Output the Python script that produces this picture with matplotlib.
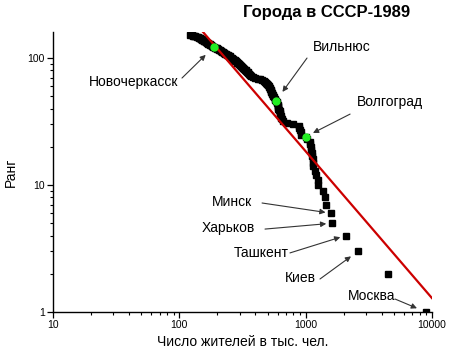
import numpy as np
import matplotlib
matplotlib.use("Agg")
import matplotlib.pyplot as plt
from matplotlib.ticker import LogLocator, FuncFormatter

plt.rcParams['font.family'] = ['Liberation Sans', 'DejaVu Sans']

# population of cities, thousands (rank = position in list, 1-based)
population = [
    8967, 4460, 2587, 2073, 1611, 1589, 1438, 1436, 1367, 1260,
    1257, 1199, 1179, 1150, 1148, 1143, 1128, 1115, 1110, 1094,
    1091, 1083, 1020, 999, 915, 912, 905, 887, 884, 790,
    713, 665, 648, 635, 633, 630, 626, 625, 616, 605,
    602, 601, 600, 596, 590, 582, 575, 568, 560, 552,
    547, 543, 540, 536, 531, 528, 525, 520, 515, 509,
    503, 498, 492, 486, 480, 470, 455, 436, 420, 400,
    380, 370, 365, 360, 356, 352, 347, 343, 338, 335,
    330, 326, 322, 318, 314, 310, 306, 302, 299, 296,
    292, 288, 285, 281, 278, 274, 270, 266, 263, 259,
    256, 253, 250, 246, 242, 238, 234, 231, 227, 224,
    221, 218, 215, 212, 209, 206, 203, 200, 197, 194,
    191, 187, 184, 182, 180, 178, 176, 174, 172, 170,
    168, 166, 164, 162, 160, 158, 156, 154, 152, 150,
    149, 148, 147, 146, 143, 140, 137, 134, 131, 128,
    125, 122,
]
rank = list(range(1, len(population) + 1))

# highlighted cities (rank)
green_names = ['Новочеркасск', 'Вильнюс', 'Волгоград']
green_rank = [122, 46, 24]

# labelled black points (rank)
black_names = ['Минск', 'Харьков', 'Ташкент', 'Киев', 'Москва']
black_rank = [6, 5, 4, 3, 1]

# power-law fit: log10(rank) = fit_a + fit_b * log10(pop)
fit_a = 4.734
fit_b = -1.156
fit_x = [154, 10000]

# label text positions / arrow start positions (data coords) and arrow shrink
label_xy = {
    'Новочеркасск': (43.8, 64.7), 'Вильнюс': (1941, 122), 'Волгоград': (4660, 45),
    'Минск': (261, 7.35), 'Харьков': (243, 4.58), 'Ташкент': (444, 2.92),
    'Киев': (904, 1.85), 'Москва': (3357, 1.34),
}
arrow_start = {
    'Новочеркасск': (105, 69.6), 'Вильнюс': (1026, 100), 'Волгоград': (2250, 36.2),
    'Минск': (452, 7.22), 'Харьков': (477, 4.5), 'Ташкент': (752, 2.92),
    'Киев': (1300, 1.82), 'Москва': (5105, 1.266),
}
arrow_shrink = {
    'Новочеркасск': 8, 'Вильнюс': 8, 'Волгоград': 6, 'Минск': 4,
    'Харьков': 4, 'Ташкент': 4, 'Киев': 6, 'Москва': 7,
}

fig = plt.figure(figsize=(4.5, 3.57), dpi=100)
ax = fig.add_axes([0.1178, 0.126, 0.842, 0.784])

ax.plot(population, rank, 's', color='black', ms=4.3, mec='black', zorder=3)

fx = np.array(fit_x, dtype=float)
ax.plot(fx, 10 ** (fit_a + fit_b * np.log10(fx)), color='#cc0000', lw=1.6, zorder=4)

gx = [population[r - 1] for r in green_rank]
ax.plot(gx, green_rank, 'o', color='#22ee22', ms=5, mec='#22ee22', zorder=5)

pts = dict(zip(green_names, zip(gx, green_rank)))
for n, r in zip(black_names, black_rank):
    pts[n] = (population[r - 1], r)

for n, (px, py) in pts.items():
    tx, ty = label_xy[n]
    ax.text(tx, ty, n, ha='center', va='center', fontsize=10)
    ax.annotate('', xy=(px, py), xytext=arrow_start[n],
                arrowprops=dict(arrowstyle='-|>', color='#333333', lw=0.8,
                                mutation_scale=8, shrinkA=0,
                                shrinkB=arrow_shrink[n]))

ax.set_xscale('log')
ax.set_yscale('log')
ax.set_xlim(10, 10000)
ax.set_ylim(1, 160)

fmt = FuncFormatter(lambda v, p: '%d' % v)
ax.xaxis.set_major_formatter(fmt)
ax.yaxis.set_major_formatter(fmt)
ax.xaxis.set_minor_locator(LogLocator(subs=np.arange(2, 10)))
ax.yaxis.set_minor_locator(LogLocator(subs=np.arange(2, 10)))
ax.xaxis.set_minor_formatter(FuncFormatter(lambda v, p: ''))
ax.yaxis.set_minor_formatter(FuncFormatter(lambda v, p: ''))
ax.tick_params(which='major', direction='out', length=4, width=0.9, labelsize=7.5, pad=2)
ax.tick_params(which='minor', direction='out', length=2.5, width=0.8)

for s in ['top', 'right']:
    ax.spines[s].set_visible(False)
for s in ['left', 'bottom']:
    ax.spines[s].set_linewidth(1.0)

ax.set_xlabel('Число жителей в тыс. чел.', fontsize=10, labelpad=3)
ax.set_ylabel('Ранг', fontsize=10, labelpad=7)
fig.text(0.725, 0.965, 'Города в СССР-1989', ha='center', va='center',
         fontsize=12, fontweight='bold')

fig.savefig('out.png', dpi=100)
